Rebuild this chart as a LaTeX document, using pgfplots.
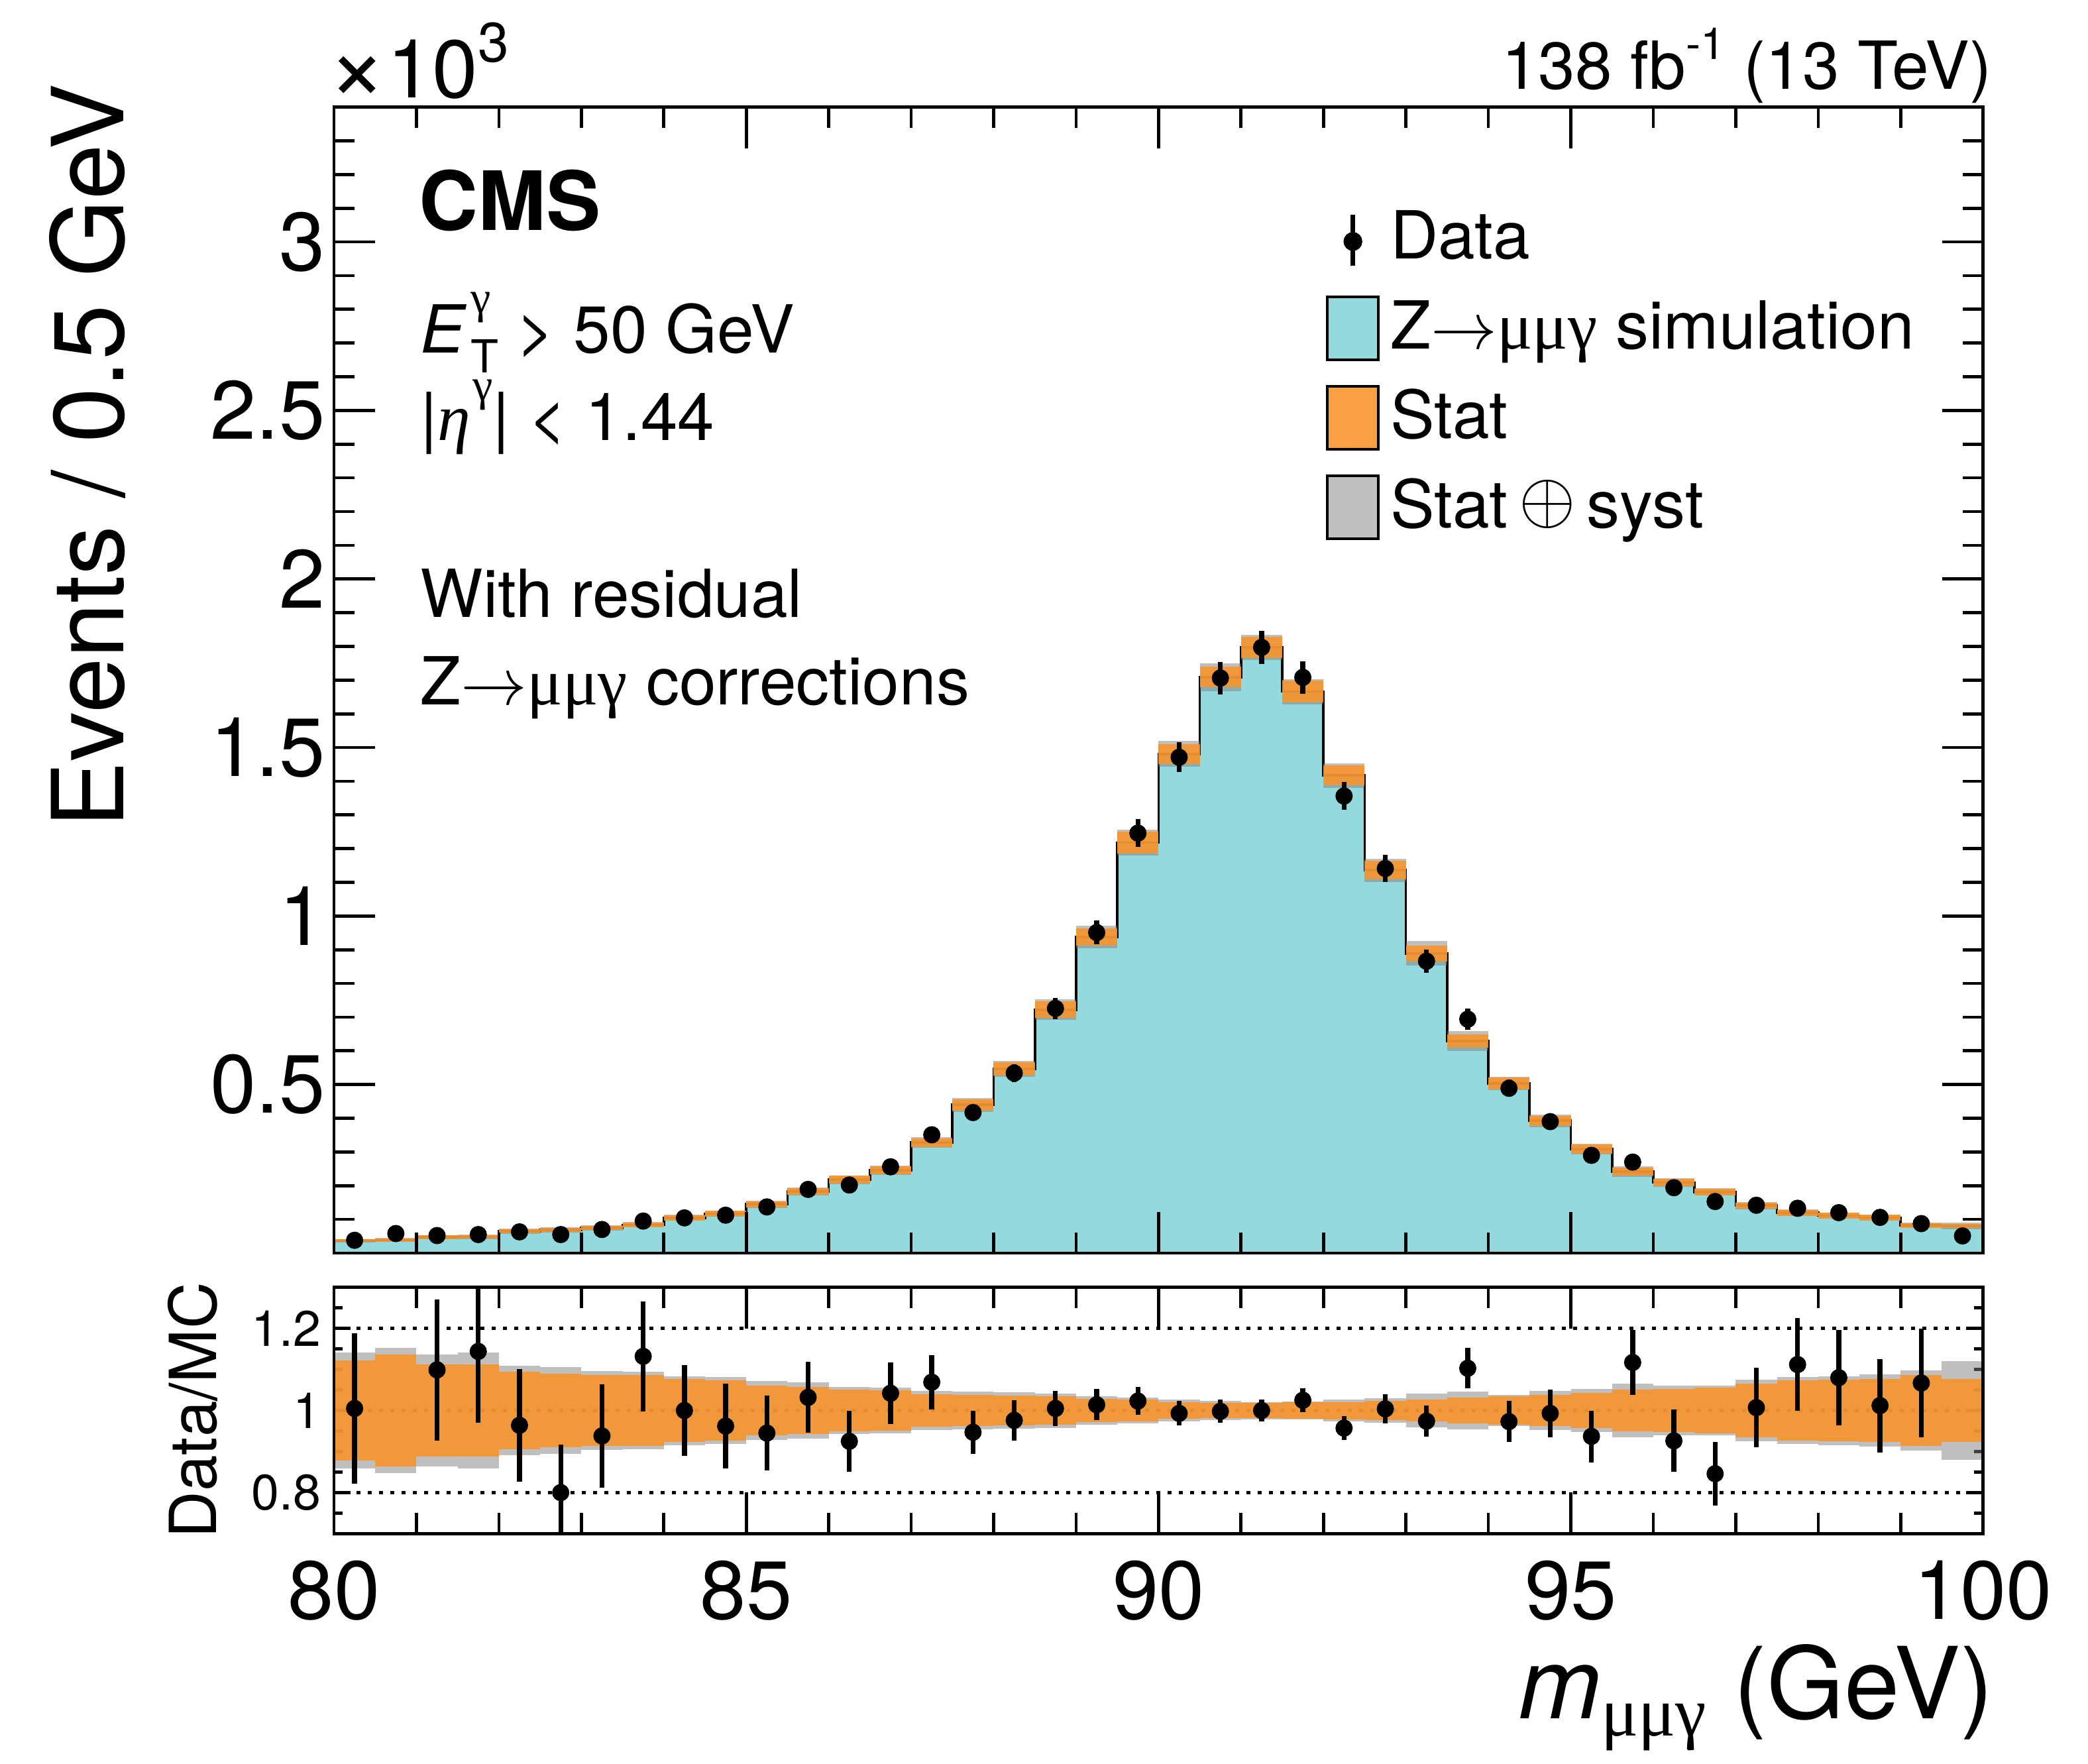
\RequirePackage{fix-cm}
\documentclass[border=0pt]{standalone}
\usepackage{fontspec}
\setmainfont{TeX Gyre Heros}
\newfontfamily\grk{Liberation Serif}
\newfontfamily\djv{DejaVu Sans}
\usepackage{pgfplots}
\pgfplotsset{compat=1.18}
\usepackage{pgfplotstable}
\definecolor{mccyan}{RGB}{148,217,221}
\definecolor{statorange}{RGB}{247,149,45}
\definecolor{legorange}{RGB}{248,160,66}
\definecolor{systgray}{RGB}{192,192,192}
\newcommand{\arr}{\ensuremath{\mathord{\rightarrow}}}

\pgfplotstableread{
x mc s t d derr r rerr
80.0 0.0370 0.1225 0.1415 0.038 0.0068 1.005 0.183
80.5 0.0385 0.136 0.152 0.058 0.0075 nan nan
81.0 0.0473 0.112 0.137 0.052 0.0081 1.099 0.172
81.5 0.0480 0.112 0.141 0.055 0.0084 1.144 0.174
82.0 0.0650 0.095 0.109 0.063 0.0089 0.964 0.137
82.5 0.0690 0.090 0.106 0.055 0.0081 0.800 0.117
83.0 0.0746 0.087 0.096 0.070 0.0094 0.938 0.126
83.5 0.0839 0.086 0.094 0.095 0.0112 1.132 0.134
84.0 0.1045 0.076 0.084 0.1045 0.0116 1.000 0.111
84.5 0.1170 0.074 0.082 0.1125 0.0121 0.962 0.103
85.0 0.1450 0.061 0.072 0.137 0.0132 0.945 0.091
85.5 0.1830 0.058 0.069 0.189 0.0157 1.032 0.086
86.0 0.2180 0.051 0.058 0.202 0.0161 0.925 0.074
86.5 0.2460 0.049 0.056 0.256 0.0185 1.042 0.075
87.0 0.3280 0.040 0.048 0.351 0.0216 1.069 0.066
87.5 0.4400 0.038 0.046 0.417 0.0233 0.947 0.053
88.0 0.5470 0.036 0.044 0.534 0.0268 0.976 0.049
88.5 0.7220 0.034 0.042 0.726 0.0310 1.005 0.043
89.0 0.9380 0.028 0.035 0.951 0.0356 1.014 0.038
89.5 1.2180 0.026 0.032 1.246 0.0414 1.023 0.034
90.0 1.4810 0.020 0.026 1.471 0.0444 0.993 0.030
90.5 1.7090 0.018 0.024 1.706 0.0479 0.998 0.028
91.0 1.7970 0.018 0.021 1.797 0.0485 1.000 0.027
91.5 1.6660 0.0196 0.0225 1.708 0.0483 1.025 0.029
92.0 1.4170 0.021 0.026 1.356 0.0411 0.957 0.029
92.5 1.1360 0.024 0.030 1.141 0.0398 1.004 0.035
93.0 0.8890 0.026 0.041 0.866 0.0338 0.974 0.038
93.5 0.6290 0.032 0.046 0.694 0.0308 1.103 0.049
94.0 0.5030 0.035 0.038 0.489 0.0252 0.973 0.050
94.5 0.3930 0.038 0.048 0.390 0.0228 0.993 0.058
95.0 0.3090 0.043 0.052 0.290 0.0195 0.937 0.063
95.5 0.2420 0.051 0.066 0.270 0.0191 1.117 0.079
96.0 0.2095 0.052 0.060 0.194 0.0159 0.926 0.076
96.5 0.1810 0.055 0.060 0.153 0.0141 0.846 0.078
97.0 0.1410 0.065 0.075 0.142 0.0137 1.007 0.097
97.5 0.1196 0.073 0.081 0.133 0.0135 1.112 0.113
98.0 0.1110 0.075 0.084 0.120 0.0129 1.080 0.116
98.5 0.1050 0.077 0.088 0.106 0.0120 1.012 0.114
99.0 0.0820 0.087 0.097 0.0875 0.0109 1.067 0.133
99.5 0.0800 0.076 0.121 0.051 0.0075 nan nan
100.0 0.0800 0.076 0.121 nan nan nan nan
}\tab

\begin{document}
\begin{tikzpicture}
\useasboundingbox (0,0) rectangle (472.65pt,399.15pt);
\pgfplotsset{
  every axis/.append style={
    scale only axis, width=373.3pt, xmin=80, xmax=100,
    axis line style={line width=0.7pt},
    tick style={line width=0.7pt, black},
    /pgf/number format/assume math mode=true,
  }
}
% ---------------- upper panel ----------------
\begin{axis}[
  at={(75.6pt,115.5pt)}, anchor=south west,
  height=259.4pt,
  ymin=0, ymax=3.4,
  axis on top,
  xtick={80,85,90,95,100},
  minor xtick={81,82,83,84,86,87,88,89,91,92,93,94,96,97,98,99},
  xticklabels={},
  ytick={0.5,1,1.5,2,2.5,3},
  minor ytick={0.1,0.2,0.3,0.4,0.6,0.7,0.8,0.9,1.1,1.2,1.3,1.4,1.6,1.7,1.8,1.9,2.1,2.2,2.3,2.4,2.6,2.7,2.8,2.9,3.1,3.2,3.3},
  major tick length=9.3pt, minor tick length=4.65pt,
  yticklabel style={font=\fontsize{18.7}{22}\selectfont, inner sep=0pt, anchor=east, xshift=-1.8pt},
  legend cell align=left,
  legend style={at={(axis description cs:0.6016,0.9099)}, anchor=north west,
    draw=none, fill=none, inner sep=0pt, outer sep=0pt, row sep=5.2pt,
    font=\fontsize{15}{18}\selectfont,
    nodes={inner sep=0pt, text height=11.02pt, text depth=3.06pt},
    /tikz/every odd column/.append style={column sep=2.4pt}},
]
\addplot[const plot mark left, fill=mccyan, draw=black, line width=0.55pt, forget plot]
  table[x=x, y=mc] {\tab} \closedcycle;
\addplot[draw=none, mark=none, forget plot, skip coords between index={40}{41},
  error bars/.cd, y dir=both, y explicit, error mark=none,
  error bar style={draw=black!50, draw opacity=0.5, line width=9.33pt}]
  table[x expr=\thisrow{x}+0.25, y=mc, y error expr=\thisrow{mc}*\thisrow{t}] {\tab};
\addplot[draw=none, mark=none, forget plot, skip coords between index={40}{41},
  error bars/.cd, y dir=both, y explicit, error mark=none,
  error bar style={draw=statorange, draw opacity=0.9, line width=9.33pt}]
  table[x expr=\thisrow{x}+0.25, y=mc, y error expr=\thisrow{mc}*\thisrow{s}] {\tab};
\addplot[only marks, mark=*, mark size=1.75pt, black, forget plot,
  skip coords between index={40}{41},
  error bars/.cd, y dir=both, y explicit, error mark=none,
  error bar style={line width=1.1pt, black}]
  table[x expr=\thisrow{x}+0.25, y=d, y error=derr] {\tab};

\addlegendimage{legend image code/.code={
  \draw[line width=1.1pt] (5.775pt,-5.5pt) -- (5.775pt,6pt);
  \fill (5.775pt,0pt) circle (1.93pt);}}
\addlegendentry{Data}
\addlegendimage{legend image code/.code={
  \draw[line width=0.6pt, fill=mccyan] (0pt,-6.525pt) rectangle (11.55pt,7.725pt);}}
\addlegendentry{Z\arr{\grk μμγ} simulation}
\addlegendimage{legend image code/.code={
  \draw[line width=0.6pt, fill=legorange] (0pt,-6.525pt) rectangle (11.55pt,7.725pt);}}
\addlegendentry{Stat}
\addlegendimage{legend image code/.code={
  \draw[line width=0.6pt, fill=systgray] (0pt,-6.525pt) rectangle (11.55pt,7.725pt);}}
\addlegendentry{Stat\kern2.5pt\raisebox{1.2pt}{\fontsize{16.5}{18}\selectfont$\oplus$}\kern2.5pt syst}
\end{axis}

% ---------------- ratio panel ----------------
\begin{axis}[
  at={(75.6pt,52pt)}, anchor=south west,
  height=55.74pt,
  ymin=0.7, ymax=1.3,
  xtick=\empty,
  ytick={0.8,1,1.2},
  minor ytick={0.75,0.85,0.9,0.95,1.05,1.1,1.15,1.25},
  major tick length=3.8pt, minor tick length=2pt,
  yticklabel style={font=\fontsize{11.3}{13}\selectfont, inner sep=0pt, anchor=east, xshift=-2.8pt},
]
\addplot[forget plot, black, line width=0.7pt, dash pattern=on 0.9pt off 1.65pt] coordinates {(80,1.2) (100,1.2)};
\addplot[forget plot, black, line width=0.7pt, dash pattern=on 0.9pt off 1.65pt] coordinates {(80,0.8) (100,0.8)};
\addplot[forget plot, black, line width=0.7pt, dash pattern=on 0.9pt off 1.65pt] coordinates {(80,1) (100,1)};
\addplot[draw=none, mark=none, forget plot, skip coords between index={40}{41},
  error bars/.cd, y dir=both, y explicit, error mark=none,
  error bar style={draw=black!50, draw opacity=0.5, line width=9.33pt}]
  table[x expr=\thisrow{x}+0.25, y expr=1, y error=t] {\tab};
\addplot[draw=none, mark=none, forget plot, skip coords between index={40}{41},
  error bars/.cd, y dir=both, y explicit, error mark=none,
  error bar style={draw=statorange, draw opacity=0.9, line width=9.33pt}]
  table[x expr=\thisrow{x}+0.25, y expr=1, y error=s] {\tab};
\addplot[only marks, mark=*, mark size=1.75pt, black, forget plot,
  skip coords between index={40}{41},
  error bars/.cd, y dir=both, y explicit, error mark=none,
  error bar style={line width=1.1pt, black}]
  table[x expr=\thisrow{x}+0.25, y=r, y error=rerr] {\tab};
\end{axis}
\begin{axis}[
  at={(75.6pt,52pt)}, anchor=south west,
  height=55.74pt,
  ymin=0.7, ymax=1.3,
  ytick=\empty,
  xtick={80,85,90,95,100},
  minor xtick={81,82,83,84,86,87,88,89,91,92,93,94,96,97,98,99},
  major tick length=9.3pt, minor tick length=4.65pt,
  xticklabel style={font=\fontsize{18.7}{22}\selectfont, inner sep=0pt, anchor=north, yshift=-5.95pt},
]
\end{axis}

% ---------------- texts ----------------
\node[anchor=base west, inner sep=0pt, font=\fontsize{18.5}{20}\selectfont] at (74pt,376.95pt)
  {\raisebox{-0.6pt}{\fontsize{23}{26}\selectfont ×}10\raisebox{8.2pt}{\fontsize{12.6}{14}\selectfont 3}};
\node[anchor=base east, inner sep=0pt, font=\fontsize{15}{18}\selectfont] at (451pt,378.9pt)
  {138 fb\raisebox{6.75pt}{\fontsize{10}{12}\selectfont -1} (13 TeV)};
\node[anchor=base west, inner sep=0pt, font=\fontsize{18.5}{22}\selectfont\bfseries] at (94.65pt,346.95pt) {CMS};
\node[anchor=base west, inner sep=0pt, font=\fontsize{15}{18}\selectfont] at (95pt,319.2pt)
  {\textit{E}\kern0.8pt\rlap{\raisebox{9pt}{\fontsize{10.3}{12}\selectfont\grk γ}}\raisebox{-4.5pt}{\fontsize{10.3}{12}\selectfont T} > 50 GeV};
\node[anchor=base west, inner sep=0pt, font=\fontsize{15}{18}\selectfont] at (95pt,299.4pt)
  {|{\grk\itshape η}\kern0.5pt\raisebox{9pt}{\fontsize{10.3}{12}\selectfont\grk γ}| < 1.44};
\node[anchor=base west, inner sep=0pt, font=\fontsize{15}{18}\selectfont] at (95pt,259.35pt) {With residual};
\node[anchor=base west, inner sep=0pt, font=\fontsize{15}{18}\selectfont] at (95pt,239.55pt) {Z\arr{\grk μμγ} corrections};
\node[rotate=90, anchor=base east, inner sep=0pt, font=\fontsize{22.5}{26}\selectfont] at (27.9pt,380.4pt) {Events / 0.5 GeV};
\node[rotate=90, anchor=base, inner sep=0pt, font=\fontsize{14.7}{17}\selectfont] at (49pt,79.95pt) {Data/MC};
\node[anchor=base east, inner sep=0pt, font=\fontsize{22.5}{26}\selectfont] at (451.5pt,10.2pt)
  {\textit{m}\raisebox{-4pt}{\fontsize{15.75}{18}\selectfont\grk μμγ} (GeV)};
\end{tikzpicture}
\end{document}
